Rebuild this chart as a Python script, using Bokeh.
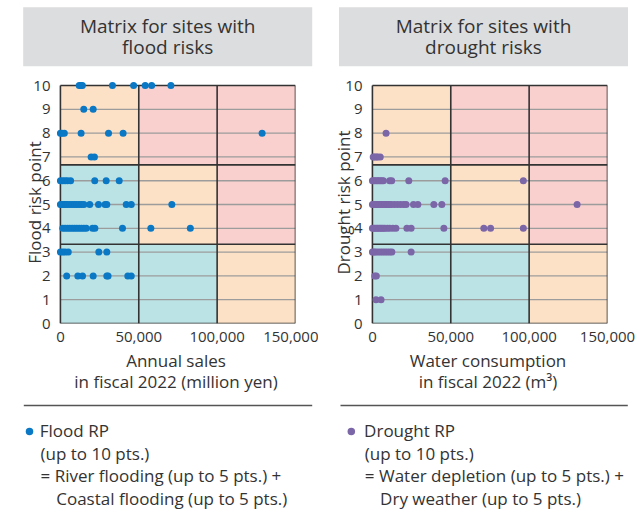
from bokeh.plotting import figure
from bokeh.layouts import row, column
from bokeh.models import Range1d, FixedTicker, NumeralTickFormatter
from bokeh.embed import file_html
from bokeh.resources import INLINE
from bokeh.core.properties import value

FONT = "Open Sans"
TEXT = "#333333"

# ---------------- data ----------------
y_ticks = [0, 1, 2, 3, 4, 5, 6, 7, 8, 9, 10]
x_ticks = [0, 50000, 100000, 150000]
zone_x = [0, 50000, 100000, 150000]
zone_y = [0, 10 / 3, 20 / 3, 10]

flood_sales = [
    12000, 13000, 14000, 33200, 46700, 54100, 58200, 70500,
    14900, 20900,
    0, 1000, 2500, 13200, 30700, 40000, 128700,
    19600, 21700,
    0, 1500, 3000, 4500, 6500, 21900, 29200, 37500,
    0, 800, 1600, 2500, 3500, 4500, 6000, 7500, 9000, 10500, 12000, 13500, 15000,
    18700, 24300, 28500, 29600, 42000, 45200, 71100,
    1500, 3000, 4500, 6000, 7500, 9000, 10500, 12000, 13500, 15000, 16500,
    20500, 22000, 39600, 57700, 82900,
    0, 1500, 3000, 5000, 24500, 29600,
    4000, 11100, 14100, 20900, 29600, 30400, 43000, 45200,
]
flood_points = (
    [10] * 8 + [9] * 2 + [8] * 7 + [7] * 2 + [6] * 8 + [5] * 20 + [4] * 16 + [3] * 6 + [2] * 8
)

drought_water = [
    8700,
    500, 1500, 2500, 3500, 5000,
    0, 1000, 2000, 3000, 4000, 5000, 6000, 7000, 11000, 12300, 23200, 46400, 96300,
    0, 1000, 2000, 3000, 4000, 5000, 6000, 7000, 8000, 9000, 10000, 11000, 12000,
    14000, 16000, 18000, 20000, 21500, 26200, 29000, 39200, 44300, 130600,
    0, 1000, 2000, 3000, 4000, 5000, 6000, 7000, 8000, 9500, 11000, 13000, 15000,
    22000, 24700, 45600, 71100, 75400, 96300,
    0, 1000, 2000, 3500, 5000, 6500, 8000, 9500, 11000, 12400, 24700,
    1500, 2500,
    2300, 5500,
]
drought_points = (
    [8] * 1 + [7] * 5 + [6] * 13 + [5] * 23 + [4] * 19 + [3] * 11 + [2] * 2 + [1] * 2
)

# ---------------- styles ----------------
BLUE_ZONE = "#BBE3E6"
PEACH_ZONE = "#FDE1C6"
PINK_ZONE = "#F9D0CE"
zone_colors = [
    [BLUE_ZONE, BLUE_ZONE, PEACH_ZONE],
    [BLUE_ZONE, PEACH_ZONE, PINK_ZONE],
    [PEACH_ZONE, PINK_ZONE, PINK_ZONE],
]
FLOOD_COLOR = "#0A78C4"
DROUGHT_COLOR = "#7B66A8"
BORDER = "#333333"
GRIDC = "#9C9C9C"
HEADER_BG = "#DCDDDE"
PANEL_W = 318


def blank_fig(h):
    f = figure(width=PANEL_W, height=h, x_range=Range1d(0, PANEL_W), y_range=Range1d(h, 0),
               x_axis_location=None, y_axis_location=None,
               min_border=0, min_border_left=0, min_border_right=0,
               min_border_top=0, min_border_bottom=0,
               output_backend="svg", toolbar_location=None, outline_line_color=None)
    f.grid.visible = False
    return f


def make_header(lines, box_l, box_r):
    h = blank_fig(70)
    h.quad(left=[box_l], right=[box_r], top=[6.7], bottom=[65.7],
           fill_color=HEADER_BG, line_color=None)
    cx = (box_l + box_r) / 2
    h.text(x=[cx, cx], y=[25.3, 46.3], text=lines, text_align="center",
           text_baseline="alphabetic", text_font=value(FONT), text_font_size="19px",
           text_color=TEXT)
    return h


def make_chart(xs, ys, color, xlabel, ylabel, left, right, ylabel_standoff):
    p = figure(width=PANEL_W, height=330, x_range=Range1d(-2500, 150000),
               y_range=Range1d(0, 10.17),
               min_border_left=left, min_border_right=right,
               min_border_top=11, min_border_bottom=77,
               output_backend="svg", toolbar_location=None,
               outline_line_color=None)
    p.grid.visible = False
    l, r, b, t, c = [], [], [], [], []
    for i in range(3):
        for j in range(3):
            l.append(zone_x[j]); r.append(zone_x[j + 1])
            b.append(zone_y[i]); t.append(zone_y[i + 1])
            c.append(zone_colors[i][j])
    p.quad(left=l, right=r, bottom=b, top=t, fill_color=c, line_color=None)
    gy = y_ticks[1:-1]
    p.segment(x0=[zone_x[0]] * len(gy), x1=[zone_x[-1]] * len(gy), y0=gy, y1=gy,
              line_color=GRIDC, line_width=1.3)
    p.segment(x0=zone_x, x1=zone_x, y0=[zone_y[0]] * 4, y1=[zone_y[-1]] * 4,
              line_color=BORDER, line_width=1.6)
    p.segment(x0=[zone_x[0]] * 4, x1=[zone_x[-1]] * 4, y0=zone_y, y1=zone_y,
              line_color=BORDER, line_width=1.6)
    p.scatter(xs, ys, size=7, fill_color=color, line_color=None)

    for ax in (p.xaxis[0], p.yaxis[0]):
        ax.axis_line_color = None
        ax.major_tick_line_color = None
        ax.minor_tick_line_color = None
        ax.major_label_text_font = FONT
        ax.major_label_text_font_size = "15px"
        ax.major_label_text_color = TEXT
        ax.axis_label_text_font = FONT
        ax.axis_label_text_font_size = "17px"
        ax.axis_label_text_font_style = "normal"
        ax.axis_label_text_color = TEXT
    p.xaxis.ticker = FixedTicker(ticks=x_ticks)
    p.xaxis.formatter = NumeralTickFormatter(format="0,0")
    p.xaxis.major_label_standoff = 2
    p.xaxis.axis_label = xlabel
    p.xaxis.axis_label_standoff = 4
    p.xaxis.axis_label_text_line_height = 0.93
    p.yaxis.ticker = FixedTicker(ticks=y_ticks)
    p.yaxis.major_label_standoff = 0
    p.yaxis.axis_label = ylabel
    p.yaxis.axis_label_standoff = ylabel_standoff
    return p


def make_legend(lines, color, sep_l, sep_r, dot_x, text_x, indent_x):
    g = blank_fig(119)
    g.segment(x0=[sep_l], x1=[sep_r], y0=[5], y1=[5], line_color="#555555", line_width=1.5)
    g.scatter(x=[dot_x], y=[31], size=7.5, fill_color=color, line_color=None)
    xs = [text_x, text_x + 0.7, text_x + 0.7, indent_x]
    ys = [29.7, 52.5, 75.3, 98.1]
    g.text(x=xs, y=ys, text=lines, text_align="left", text_baseline="alphabetic",
           text_font=value(FONT), text_font_size="17px", text_color=TEXT)
    return g


h1 = make_header(["Matrix for sites with", "flood risks"], 22.7, 311.7)
h2 = make_header(["Matrix for sites with", "drought risks"], 20.5, 309.5)
c1 = make_chart(flood_sales, flood_points, FLOOD_COLOR,
                "Annual sales\nin fiscal 2022 (million yen)", "Flood risk point", 56, 23, -16)
c2 = make_chart(drought_water, drought_points, DROUGHT_COLOR,
                "Water consumption\nin fiscal 2022 (m\u00b3)", "Drought risk point", 50, 29, -13)
l1 = make_legend(["Flood RP", "(up to 10 pts.)", "= River flooding (up to 5 pts.) +",
                  "Coastal flooding (up to 5 pts.)"], FLOOD_COLOR, 23.3, 311.7, 29, 39.3, 55.7)
l2 = make_legend(["Drought RP", "(up to 10 pts.)", "= Water depletion (up to 5 pts.) +",
                  "Dry weather (up to 5 pts.)"], DROUGHT_COLOR, 22, 309.3, 32.8, 45.6, 61.6)

layout = column(row(h1, h2), row(c1, c2), row(l1, l2))
open("out.html", "w").write(file_html(layout, INLINE))
